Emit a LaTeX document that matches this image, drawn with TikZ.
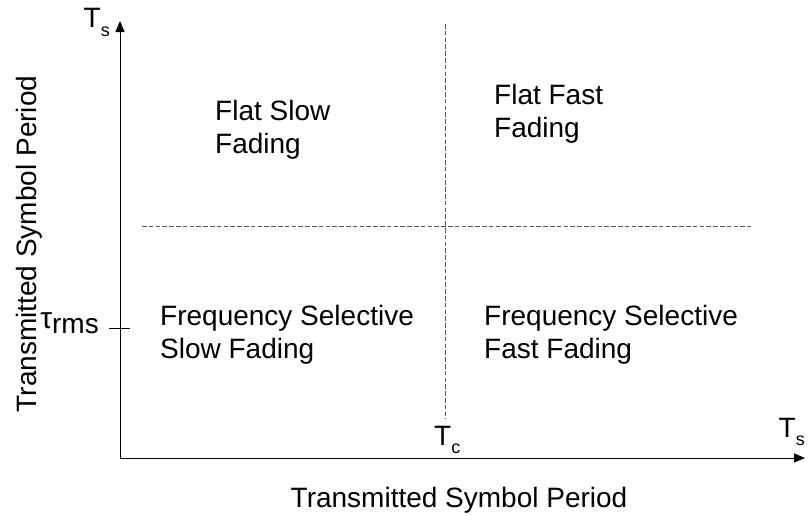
\documentclass[tikz,border=0pt]{standalone}
\usepackage{fontspec}
\setmainfont{Liberation Sans}
\usetikzlibrary{arrows.meta}
\begin{document}
\begin{tikzpicture}[x=1pt,y=-1pt,
  axis/.style={line width=1pt,-{Triangle[length=11pt,width=9pt]}},
  grid/.style={line width=0.9pt,draw=black!65,dash pattern=on 4.5pt off 2.3pt},
  region/.style={align=left,anchor=west,inner sep=0pt,font=\fontsize{28}{32.5}\selectfont},
  lbl/.style={inner sep=0pt,font=\fontsize{28}{32}\selectfont}
]
\useasboundingbox (0,0) rectangle (808,515);
% axes
\coordinate (O) at (120,458);
\coordinate (ytop) at (120,21);
\coordinate (xend) at (805,458);
\draw[axis] (O) -- (ytop);
\draw[axis] (O) -- (xend);
% tick for tau_rms
\coordinate (tickL) at (109,328);
\coordinate (tickR) at (130,328);
\draw[line width=1pt] (tickL) -- (tickR);
% region boundaries
\coordinate (vtop) at (445,24);
\coordinate (vbot) at (445,419);
\coordinate (hl) at (142,226);
\coordinate (hr) at (751,226);
\draw[grid] (vtop) -- (vbot);
\draw[grid] (hl) -- (hr);
% region labels
\node[region] (fss) at (215,130) {Flat Slow\\Fading};
\node[region] (ffs) at (494,114) {Flat Fast\\Fading};
\node[region] (fsslow) at (160,335) {Frequency Selective\\Slow Fading};
\node[region] (fsfast) at (484,335) {Frequency Selective\\Fast Fading};
% axis labels
\node[lbl,anchor=base east] (tsy) at (110,27) {T\raisebox{-9pt}{\fontsize{18}{18}\selectfont s}};
\node[lbl,anchor=base east] (taurms) at (99,333) {\raisebox{5pt}{\fontsize{30}{30}\selectfont τ}rms};
\node[lbl,anchor=base west] (tc) at (434,445) {T\raisebox{-8pt}{\fontsize{18}{18}\selectfont c}};
\node[lbl,anchor=base east] (tsx) at (805,437) {T\raisebox{-8pt}{\fontsize{18}{18}\selectfont s}};
\node[lbl,anchor=base] (xlab) at (459,507) {Transmitted Symbol Period};
\node[lbl,anchor=base,rotate=90] (ylab) at (36,244) {Transmitted Symbol Period};
\end{tikzpicture}
\end{document}
